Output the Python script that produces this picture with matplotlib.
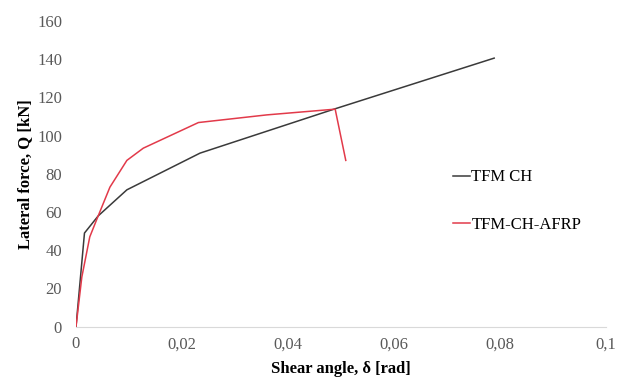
import matplotlib
matplotlib.use("Agg")
import matplotlib.pyplot as plt

tfm_ch_x = [0.0, 0.0016, 0.0042, 0.0096, 0.0234, 0.0489, 0.0789]
tfm_ch_y = [0.0, 49.0, 58.0, 71.6, 90.8, 114.0, 140.5]

afrp_x = [0.0, 0.0011, 0.0026, 0.0039, 0.0064, 0.0096, 0.0127, 0.0231, 0.036, 0.0489, 0.0509]
afrp_y = [0.0, 26.0, 47.0, 56.0, 73.0, 87.0, 93.4, 106.8, 110.8, 113.8, 87.0]

xticks = [0, 0.02, 0.04, 0.06, 0.08, 0.1]
xtick_labels = ["0", "0,02", "0,04", "0,06", "0,08", "0,1"]
yticks = [0, 20, 40, 60, 80, 100, 120, 140, 160]

plt.rcParams['font.family'] = ['Liberation Serif', 'DejaVu Serif']

fig = plt.figure(figsize=(6.25, 3.79), dpi=100)
ax = fig.add_axes([0.1216, 0.138, 0.848, 0.807])

ax.plot(tfm_ch_x, tfm_ch_y, color="#3a3a3a", lw=1.1, label="TFM CH")
ax.plot(afrp_x, afrp_y, color="#e23a4a", lw=1.1, label="TFM-CH-AFRP")

ax.set_xlim(0, 0.1)
ax.set_ylim(0, 160)
ax.set_xticks(xticks)
ax.set_xticklabels(xtick_labels)
ax.set_yticks(yticks)
ax.tick_params(axis="both", length=0, labelsize=12, colors="#595959")
ax.tick_params(axis="x", pad=7)
ax.tick_params(axis="y", pad=10)

for s in ["top", "right", "left"]:
    ax.spines[s].set_visible(False)
ax.spines["bottom"].set_color("#d9d9d9")
ax.spines["bottom"].set_linewidth(0.8)

ax.set_xlabel("Shear angle, δ [rad]", fontsize=12, fontweight="bold", labelpad=6)
ax.set_ylabel("Lateral force, Q [kN]", fontsize=12, fontweight="bold", labelpad=3)

leg = ax.legend(loc="center left", bbox_to_anchor=(0.683, 0.41), frameon=False,
                fontsize=12, handlelength=1.0, handletextpad=0.1, labelspacing=1.9)

fig.savefig("out.png", dpi=100)
